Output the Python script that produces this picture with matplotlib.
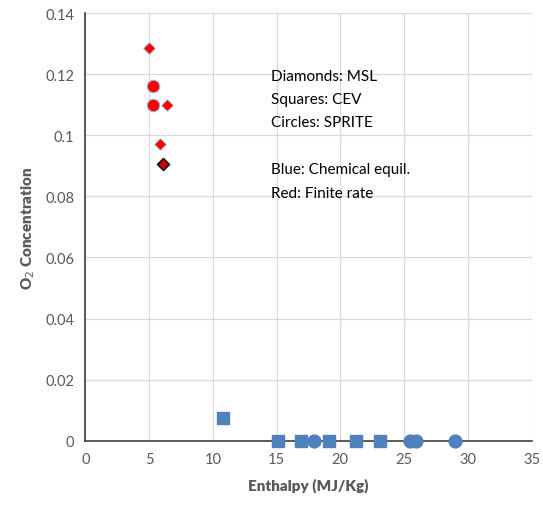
import matplotlib.pyplot as plt

plt.rcParams['font.family'] = ['Lato', 'DejaVu Sans']

# MSL (diamonds), finite rate
msl_x = [5.0, 6.4, 5.9]
msl_y = [0.1285, 0.110, 0.097]
msl_dark_x = [6.1]
msl_dark_y = [0.0905]

# SPRITE (circles), finite rate
sprite_red_x = [5.3, 5.3]
sprite_red_y = [0.116, 0.110]

# CEV (squares), chemical equilibrium
cev_x = [10.8, 15.1, 16.9, 19.1, 21.2, 23.1]
cev_y = [0.0075, 0.0, 0.0, 0.0, 0.0, 0.0]

# SPRITE (circles), chemical equilibrium
sprite_blue_x = [17.9, 25.5, 25.9, 29.0]
sprite_blue_y = [0.0, 0.0, 0.0, 0.0]

grey = '#595959'
blue = '#4f81bd'

fig = plt.figure(figsize=(5.43, 5.06), dpi=100)
ax = fig.add_axes([0.157, 0.127, 0.822, 0.845])

ax.scatter(cev_x, cev_y, marker='s', s=85, color=blue, clip_on=False, zorder=3)
ax.scatter(sprite_blue_x, sprite_blue_y, marker='o', s=85, color=blue, clip_on=False, zorder=3)
ax.scatter(msl_x, msl_y, marker='D', s=35, color='red', edgecolors='#9db3d8', linewidths=0.6, zorder=3)
ax.scatter(msl_dark_x, msl_dark_y, marker='D', s=38, color='#c00000', edgecolors='black', linewidths=1.0, zorder=3)
ax.scatter(sprite_red_x, sprite_red_y, marker='o', s=80, color='red', edgecolors='#9db3d8', linewidths=0.8, zorder=3)

ax.set_xlim(0, 35)
ax.set_ylim(0, 0.14)
ax.set_xticks(range(0, 36, 5))
ax.set_yticks([0, 0.02, 0.04, 0.06, 0.08, 0.1, 0.12, 0.14])
ax.set_yticklabels(['0', '0.02', '0.04', '0.06', '0.08', '0.1', '0.12', '0.14'])
ax.grid(True, color='#d9d9d9', linewidth=0.9)
ax.set_axisbelow(True)
for s in ['top', 'right']:
    ax.spines[s].set_visible(False)
ax.spines['left'].set_color('#404040')
ax.spines['bottom'].set_color('#404040')
ax.spines['left'].set_linewidth(1.2)
ax.spines['bottom'].set_linewidth(1.2)
ax.tick_params(length=0, colors=grey, labelsize=10.5, pad=8)

ax.set_xlabel('Enthalpy (MJ/Kg)', fontsize=11, fontweight='heavy', color=grey, labelpad=8)
ax.set_ylabel('O$_2$ Concentration', fontsize=11, fontweight='heavy', color=grey, labelpad=6)

ax.text(14.6, 0.1218,
        'Diamonds: MSL\nSquares: CEV\nCircles: SPRITE\n\nBlue: Chemical equil.\nRed: Finite rate',
        fontsize=11, va='top', ha='left', color='black', linespacing=1.85)

fig.savefig('out.png', dpi=100)
